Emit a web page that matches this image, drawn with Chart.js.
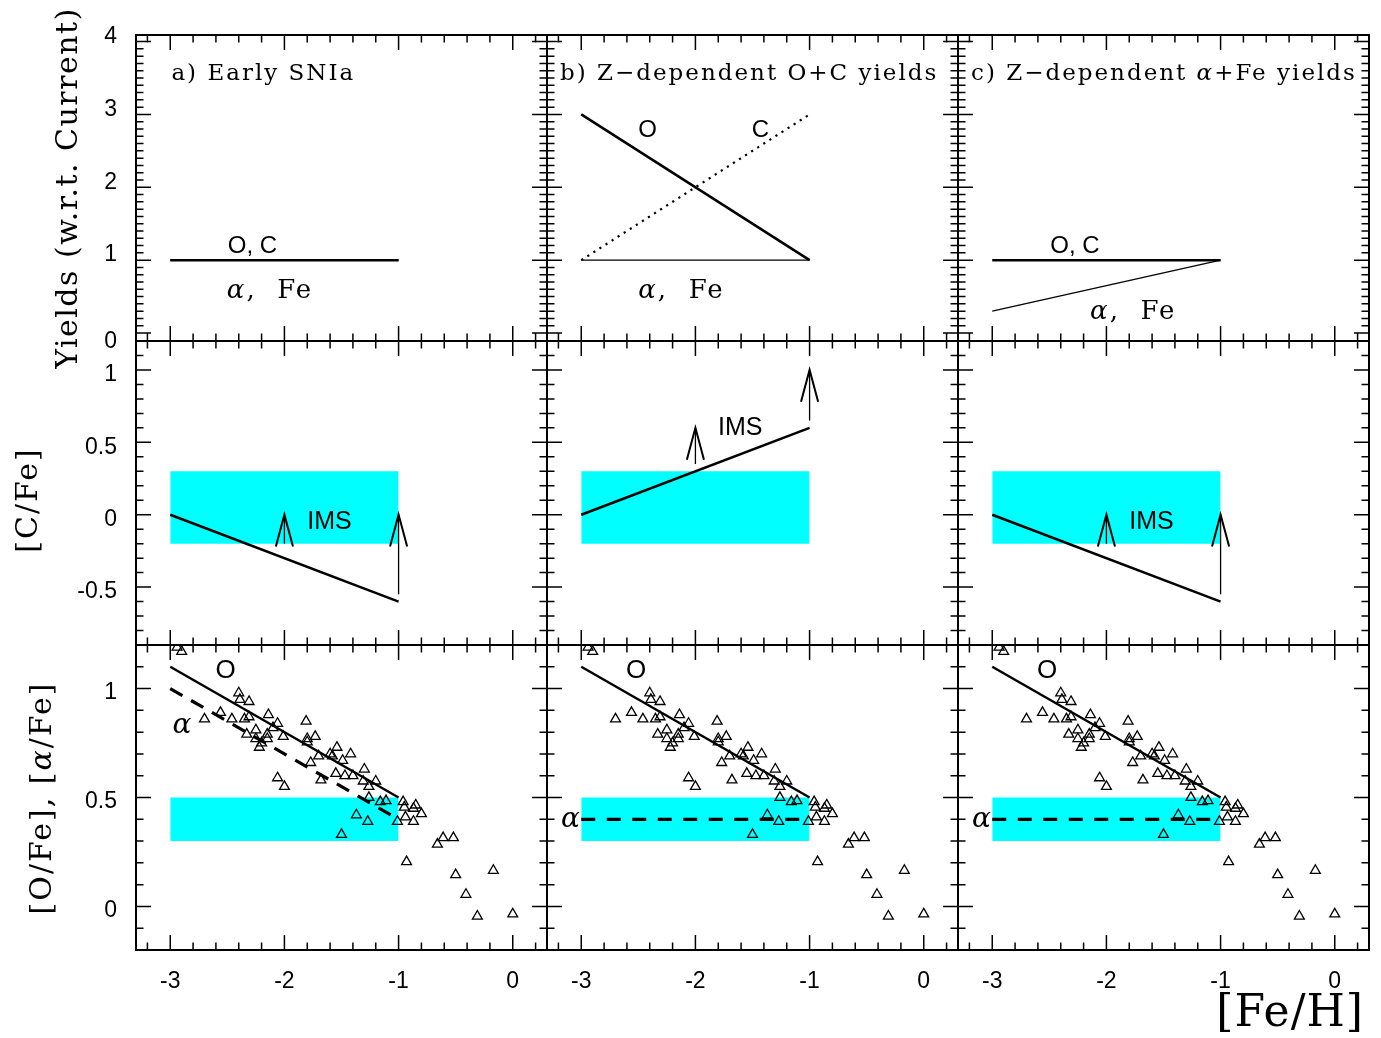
<!DOCTYPE html>
<html>
<head>
<meta charset="utf-8">
<script src="https://cdn.jsdelivr.net/npm/chart.js@4.4.1/dist/chart.umd.min.js"></script>
<style>
  html, body { margin: 0; padding: 0; background: #fff; }
  #fig { position: relative; width: 1381px; height: 1038px; overflow: hidden; }
  #fig canvas { position: absolute; left: 0; top: 0; }
</style>
</head>
<body>
<div id="fig"></div>
<script>
// ---------------- values ----------------
// [Fe/H] end points of every model track
const modelFeH = [-3, -1];

// Yields relative to the current ones
const yieldOC_a  = [1, 1];
const yieldAFe_a = [1, 1];
const yieldO_b   = [3, 1];
const yieldC_b   = [1, 3];
const yieldAFe_b = [1, 1];
const yieldOC_c  = [1, 1];
const yieldAFe_c = [0.3, 1];

// [C/Fe] model tracks
const cfeModel_a = [0, -0.6];
const cfeModel_b = [0, 0.6];
const cfeModel_c = [0, -0.6];

// Extra carbon from intermediate-mass stars: [Fe/H], from, to
const imsArrows_a = [[-2, -0.2, 0], [-1, -0.55, 0]];
const imsArrows_b = [[-2, 0.35, 0.6], [-1, 0.65, 1.0]];
const imsArrows_c = [[-2, -0.2, 0], [-1, -0.55, 0]];

// Observed ranges (low, high)
const cfeBand = [-0.2, 0.3];
const ofeBand = [0.3, 0.5];

// [O/Fe] and [alpha/Fe] model tracks
const ofeModel    = [1.1, 0.5];
const afeModel_a  = [1.0, 0.4];
const afeModel_bc = [0.4, 0.4];

// Halo and disk stars
const starFeH = [-2.94, -2.90, -2.70, -2.56, -2.46, -2.40, -2.39, -2.31, -2.35, -2.31,
                 -2.25, -2.33, -2.25, -2.20, -2.22, -2.14, -2.15, -2.15, -2.10, -2.06,
                 -2.01, -2.06, -2.00, -1.81, -1.80, -1.80, -1.73, -1.70, -1.77, -1.68,
                 -1.60, -1.58, -1.54, -1.49, -1.42, -1.55, -1.47, -1.40, -1.30, -1.31,
                 -1.20, -1.26, -1.26, -1.37, -1.27, -1.50, -1.16, -1.11, -1.01, -0.96,
                 -0.95, -0.94, -0.87, -0.85, -0.80, -0.87, -0.93, -0.66, -0.61, -0.52,
                 -0.50, -0.41, -0.31, -0.17, 0.00];
const starOFe = [1.19, 1.17, 0.86, 0.89, 0.86, 0.98, 0.95, 0.94, 0.86, 0.87,
                 0.81, 0.79, 0.77, 0.75, 0.73, 0.88, 0.79, 0.77, 0.82, 0.84,
                 0.78, 0.59, 0.55, 0.85, 0.77, 0.755, 0.78, 0.69, 0.66, 0.58,
                 0.70, 0.69, 0.73, 0.67, 0.70, 0.61, 0.60, 0.60, 0.63, 0.575,
                 0.575, 0.55, 0.50, 0.42, 0.39, 0.33, 0.48, 0.485, 0.39, 0.48,
                 0.455, 0.41, 0.45, 0.465, 0.425, 0.39, 0.205, 0.285, 0.315, 0.315,
                 0.145, 0.055, -0.045, 0.165, -0.035];

// Axis ranges and labelled ticks
const feRange = [-3.3, 0.3];
const yieldRange = [-0.11, 4.09];
const cfeRange = [-0.9, 1.2];
const ofeRange = [-0.2, 1.2];
const feTicks = [-3, -2, -1, 0];
const yieldTicks = [0, 1, 2, 3, 4];
const cfeTicks = [-0.5, 0, 0.5, 1];
const ofeTicks = [0, 0.5, 1];

// ---------------- layout & style ----------------
const FIG_W = 1381, FIG_H = 1038;
const colEdges = [136, 547, 958, 1369];
const rowEdges = [35, 341, 645, 950];
const SERIF = '"DejaVu Serif", serif';
const SANS = '"Liberation Sans", Arial, sans-serif';
const CYAN = '#00ffff';
const X_MINOR = 0.2, Y_MINOR = 0.1;
const MAJOR_LEN = 15, MINOR_LEN = 7.5;
const HEAD_W = 0.075, HEAD_H = 0.22;

const fig = document.getElementById('fig');

const pts = (xs, ys) => xs.map((x, i) => ({ x, y: ys[i] }));

const lineDS = (ys, w, extra = {}) => Object.assign({
  data: pts(modelFeH, ys), borderColor: '#000', borderWidth: w,
  pointRadius: 0, fill: false, tension: 0, order: 2
}, extra);

const bandDS = band => ({
  data: pts(modelFeH, [band[1], band[1]]),
  borderColor: 'rgba(0,0,0,0)', borderWidth: 0, backgroundColor: CYAN,
  fill: { value: band[0] }, pointRadius: 0, order: 5
});

const arrowDS = arrows => arrows.flatMap(([x, y0, y1]) => [
  { data: pts([x, x], [y0, y1]), borderColor: '#000', borderWidth: 1.3, pointRadius: 0, fill: false, order: 2 },
  { data: pts([x - HEAD_W, x, x + HEAD_W], [y1 - HEAD_H, y1, y1 - HEAD_H]), borderColor: '#000',
    borderWidth: 2, borderJoinStyle: 'miter', pointRadius: 0, fill: false, order: 2 }
]);

const starsDS = () => ({
  data: pts(starFeH, starOFe), showLine: false, pointStyle: 'triangle', pointRadius: 5.7,
  borderColor: '#000', borderWidth: 1.3, backgroundColor: 'rgba(0,0,0,0)', order: 1
});

// text drawn in pieces so that a Greek letter can be set in italic
function drawText(ctx, px, py, it) {
  ctx.save();
  ctx.translate(px, py);
  if (it.rot) ctx.rotate(it.rot);
  ctx.fillStyle = '#000';
  ctx.textBaseline = 'alphabetic';
  ctx.textAlign = 'left';
  const widths = it.parts.map(([t, font, ls]) => {
    ctx.font = font; ctx.letterSpacing = (ls || 0) + 'px';
    return ctx.measureText(t).width;
  });
  const total = widths.reduce((a, b) => a + b, 0);
  let cx = it.align === 'center' ? -total / 2 : it.align === 'right' ? -total : 0;
  it.parts.forEach(([t, font, ls], i) => {
    ctx.font = font; ctx.letterSpacing = (ls || 0) + 'px';
    ctx.fillText(t, cx, 0);
    cx += widths[i];
  });
  ctx.restore();
}

const notesPlugin = items => ({
  id: 'notes',
  afterDatasetsDraw(chart) {
    const { ctx, scales: { x, y } } = chart;
    items.forEach(it => {
      const px = it.fig ? it.x : x.getPixelForValue(it.x);
      const py = it.fig ? it.y : y.getPixelForValue(it.y);
      drawText(ctx, px, py, it);
    });
  }
});

// box round the panel with inward major and minor ticks on all four sides
const framePlugin = yMajor => ({
  id: 'frame',
  afterDraw(chart) {
    const { ctx, chartArea: a, scales: { x, y } } = chart;
    const isMajor = (v, list) => list.some(m => Math.abs(m - v) < 1e-6);
    const steps = (s, step) => {
      const out = [];
      for (let k = Math.ceil(s.min / step - 1e-9); k * step <= s.max + 1e-9; k++) out.push(+(k * step).toFixed(6));
      return out;
    };
    ctx.save();
    ctx.strokeStyle = '#000';
    ctx.lineWidth = 1.5;
    ctx.beginPath();
    steps(x, X_MINOR).forEach(v => {
      const p = x.getPixelForValue(v);
      if (p < a.left + 2 || p > a.right - 2) return;
      const len = isMajor(v, feTicks) ? MAJOR_LEN : MINOR_LEN;
      ctx.moveTo(p, a.bottom); ctx.lineTo(p, a.bottom - len);
      ctx.moveTo(p, a.top); ctx.lineTo(p, a.top + len);
    });
    steps(y, Y_MINOR).forEach(v => {
      const p = y.getPixelForValue(v);
      if (p < a.top + 2 || p > a.bottom - 2) return;
      const len = isMajor(v, yMajor) ? MAJOR_LEN : MINOR_LEN;
      ctx.moveTo(a.left, p); ctx.lineTo(a.left + len, p);
      ctx.moveTo(a.right, p); ctx.lineTo(a.right - len, p);
    });
    ctx.stroke();
    ctx.lineWidth = 2;
    ctx.strokeRect(a.left, a.top, a.right - a.left, a.bottom - a.top);
    ctx.restore();
  }
});

const yRanges = [yieldRange, cfeRange, ofeRange];
const yTickSets = [yieldTicks, cfeTicks, ofeTicks];
const yLabelShift = [-5, 5, 4];

function panel(row, col, datasets, notes) {
  const cv = document.createElement('canvas');
  cv.width = FIG_W; cv.height = FIG_H;
  fig.appendChild(cv);
  const isLeft = col === 0, isBottom = row === 2;
  const yTicks = yTickSets[row];
  return new Chart(cv, {
    type: 'line',
    data: { datasets },
    options: {
      responsive: false, animation: false, events: [],
      layout: { padding: {
        left: isLeft ? 0 : colEdges[col],
        right: FIG_W - colEdges[col + 1],
        top: rowEdges[row],
        bottom: isBottom ? 0 : FIG_H - rowEdges[row + 1]
      } },
      scales: {
        x: {
          type: 'linear', bounds: 'data', min: feRange[0], max: feRange[1], display: isBottom,
          afterBuildTicks: s => { s.ticks = feTicks.map(v => ({ value: v })); },
          afterFit: s => { if (isBottom) s.height = FIG_H - rowEdges[3]; },
          grid: { display: false, drawTicks: false }, border: { display: false },
          ticks: { color: '#000', font: { family: SANS, size: 23 }, padding: 18,
                   autoSkip: false, maxRotation: 0, minRotation: 0, callback: v => String(v) }
        },
        y: {
          type: 'linear', bounds: 'data', min: yRanges[row][0], max: yRanges[row][1], display: isLeft,
          afterBuildTicks: s => { s.ticks = yTicks.map(v => ({ value: v })); },
          afterFit: s => { if (isLeft) s.width = colEdges[0]; },
          grid: { display: false, drawTicks: false }, border: { display: false },
          ticks: { color: '#000', font: { family: SANS, size: 23 }, padding: 19, autoSkip: false,
                   labelOffset: yLabelShift[row],
                   // the lowest yield label sits under its tick, clear of the panel below
                   callback: v => (row === 0 && v === 0) ? ['', '0'] : String(v) }
        }
      },
      plugins: { legend: { display: false }, tooltip: { enabled: false } }
    },
    plugins: [notesPlugin(notes), framePlugin(yTicks)]
  });
}

// ---------------- text styles ----------------
const titleFont = `23px ${SERIF}`;
const elemFont = `24px ${SANS}`;
const imsFont = `25px ${SANS}`;
const oFont = `26px ${SANS}`;
const feFont = `26px ${SERIF}`;
const alphaItalic = `italic 26px ${SERIF}`;
const alphaBig = `italic 28px ${SERIF}`;
const axisFont = `30px ${SERIF}`;
const alphaFe = (x, y) => ({ x, y, align: 'center', parts: [['α', alphaItalic, 2], [',  Fe', feFont, 2]] });

// ---------------- top row: yields ----------------
panel(0, 0, [
  lineDS(yieldAFe_a, 1.2),
  lineDS(yieldOC_a, 2.5)
], [
  { x: -2.99, y: 3.472, align: 'left', parts: [['a) Early SNIa', titleFont, 2]] },
  { x: -2.28, y: 1.094, align: 'center', parts: [['O, C', elemFont, 0]] },
  alphaFe(-2.126, 0.484),
  { fig: true, x: 77, y: 188, rot: -Math.PI / 2, align: 'center', parts: [['Yields (w.r.t. Current)', axisFont, 1.5]] }
]);

panel(0, 1, [
  lineDS(yieldAFe_b, 1.2),
  lineDS(yieldO_b, 2.5),
  lineDS(yieldC_b, 2.2, { borderDash: [2.2, 5] })
], [
  { x: -3.186, y: 3.472, align: 'left', parts: [['b) Z−dependent O+C yields', titleFont, 2]] },
  { x: -2.42, y: 2.686, align: 'center', parts: [['O', elemFont, 0]] },
  { x: -1.43, y: 2.686, align: 'center', parts: [['C', elemFont, 0]] },
  alphaFe(-2.122, 0.484)
]);

panel(0, 2, [
  lineDS(yieldAFe_c, 1.2),
  lineDS(yieldOC_c, 2.5)
], [
  { x: -3.186, y: 3.472, align: 'left', parts: [['c) Z−dependent ', titleFont, 2], ['α', `italic 23px ${SERIF}`, 2], ['+Fe yields', titleFont, 2]] },
  { x: -2.275, y: 1.1, align: 'center', parts: [['O, C', elemFont, 0]] },
  alphaFe(-1.765, 0.188)
]);

// ---------------- middle row: [C/Fe] ----------------
panel(1, 0, [bandDS(cfeBand), lineDS(cfeModel_a, 2.5), ...arrowDS(imsArrows_a)], [
  { x: -1.605, y: -0.101, align: 'center', parts: [['IMS', imsFont, 0]] },
  { fig: true, x: 37, y: 500, rot: -Math.PI / 2, align: 'center', parts: [['[C/Fe]', axisFont, 2]] }
]);
panel(1, 1, [bandDS(cfeBand), lineDS(cfeModel_b, 2.5), ...arrowDS(imsArrows_b)], [
  { x: -1.607, y: 0.551, align: 'center', parts: [['IMS', imsFont, 0]] }
]);
panel(1, 2, [bandDS(cfeBand), lineDS(cfeModel_c, 2.5), ...arrowDS(imsArrows_c)], [
  { x: -1.605, y: -0.101, align: 'center', parts: [['IMS', imsFont, 0]] }
]);

// ---------------- bottom row: [O/Fe], [alpha/Fe] ----------------
panel(2, 0, [bandDS(ofeBand), lineDS(ofeModel, 2.5), lineDS(afeModel_a, 3.2, { borderDash: [14, 10] }), starsDS()], [
  { x: -2.516, y: 1.047, align: 'center', parts: [['O', oFont, 0]] },
  { x: -2.897, y: 0.795, align: 'center', parts: [['α', alphaBig, 0]] },
  { fig: true, x: 51, y: 798, rot: -Math.PI / 2, align: 'center', parts: [['[O/Fe], [', axisFont, 2], ['α', `italic 30px ${SERIF}`, 2], ['/Fe]', axisFont, 2]] }
]);
panel(2, 1, [bandDS(ofeBand), lineDS(ofeModel, 2.5), lineDS(afeModel_bc, 3.2, { borderDash: [14, 11.5] }), starsDS()], [
  { x: -2.52, y: 1.047, align: 'center', parts: [['O', oFont, 0]] },
  { x: -3.011, y: 0.366, align: 'right', parts: [['α', alphaBig, 0]] }
]);
panel(2, 2, [bandDS(ofeBand), lineDS(ofeModel, 2.5), lineDS(afeModel_bc, 3.2, { borderDash: [14, 11.5] }), starsDS()], [
  { x: -2.52, y: 1.047, align: 'center', parts: [['O', oFont, 0]] },
  { x: -3.011, y: 0.366, align: 'right', parts: [['α', alphaBig, 0]] },
  { fig: true, x: 1364, y: 1026, align: 'right', parts: [['[Fe/H]', `44px ${SERIF}`, 1]] }
]);
</script>
</body>
</html>
